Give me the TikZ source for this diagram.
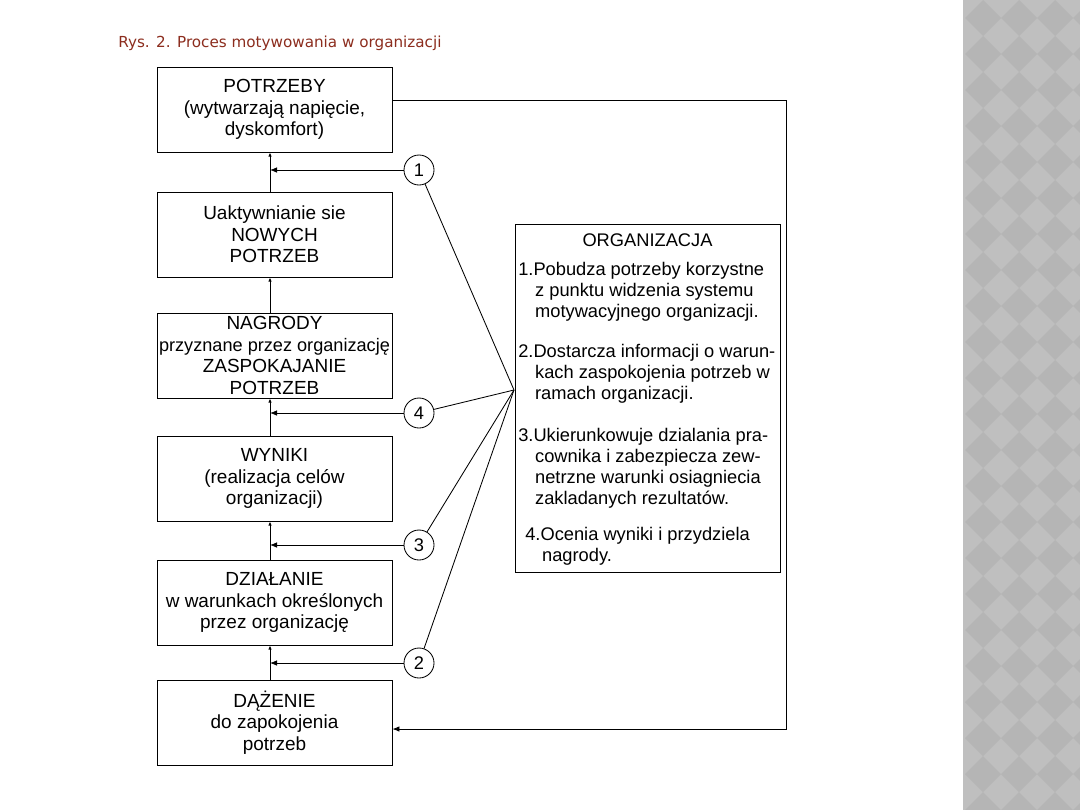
\documentclass[tikz,border=0pt]{standalone}
\usepackage{fontspec}
\setmainfont{Liberation Sans}
\newfontfamily\titlefont{DejaVu Sans}
\usetikzlibrary{arrows.meta}
\definecolor{titlered}{RGB}{140,45,30}
\definecolor{panelgray}{RGB}{191,191,191}
\definecolor{diamgray}{RGB}{181,181,181}
\begin{document}
\begin{tikzpicture}[x=0.025cm, y=-0.025cm,
  stage/.style={draw, line width=0.6pt, minimum width=5.875cm, minimum height=2.125cm,
    align=center, inner sep=0pt, font=\fontsize{13.5}{15.2}\selectfont},
  num/.style={draw, circle, line width=0.6pt, minimum size=0.75cm, inner sep=0pt,
    font=\fontsize{13}{15}\selectfont},
  orgtxt/.style={anchor=north west, align=left, inner sep=0pt, font=\fontsize{13}{15}\selectfont},
  upline/.style={line width=0.6pt, -{Latex[length=3pt,width=2.5pt]}},
  inarrow/.style={line width=0.6pt, -{Latex[length=5pt,width=4pt]}}]
  \useasboundingbox (0,0) rectangle (1080,810);
  \fill[panelgray] (963,0) rectangle (1080,810);
  \begin{scope}
    \clip (963,0) rectangle (1080,810);
    \foreach \i in {0,...,3}
      \foreach \j in {0,...,22}
        \fill[diamgray] ({983+36*\i},{18+36*\j-18}) -- ++(18,18) -- ++(-18,18) -- ++(-18,-18) -- cycle;
  \end{scope}
  \node[anchor=west, inner sep=0pt, text=titlered, font=\titlefont\fontsize{10.8}{12}\selectfont] (title) at (118,43)
    {Rys. 2. Proces motywowania w organizacji};

  \node[stage] (potrzeby) at (274.5,109.5) {POTRZEBY\\(wytwarzają napięcie,\\dyskomfort)};
  \node[stage] (nowe) at (274.5,234.5) {Uaktywnianie sie\\NOWYCH\\POTRZEB};
  \node[stage] (nagrody) at (274.5,355.5) {NAGRODY\\{\fontsize{12.9}{15.2}\selectfont przyznane przez organizację}\\ZASPOKAJANIE\\POTRZEB};
  \node[stage] (wyniki) at (274.5,478.5) {WYNIKI\\(realizacja celów\\organizacji)};
  \node[stage] (dzialanie) at (274.5,602.5) {DZIAŁANIE\\w warunkach określonych\\przez organizację};
  \node[stage] (dazenie) at (274.5,722.5) {DĄŻENIE\\do zapokojenia\\potrzeb};

  \node[num] (c1) at (419,170) {1};
  \node[num] (c4) at (419,413) {4};
  \node[num] (c3) at (419,545) {3};
  \node[num] (c2) at (419,663) {2};

  \node[draw, line width=0.6pt, minimum width=6.625cm, minimum height=8.7cm] (org) at (647.5,398) {};
  \node[font=\fontsize{13}{15}\selectfont] (orgtitle) at (647.5,240) {ORGANIZACJA};
  \node[orgtxt] (p1) at (518,262) {1.Pobudza potrzeby korzystne\\\hspace*{12pt}z punktu widzenia systemu\\\hspace*{12pt}motywacyjnego organizacji.};
  \node[orgtxt] (p2) at (518,344) {2.Dostarcza informacji o warun-\\\hspace*{12pt}kach zaspokojenia potrzeb w\\\hspace*{12pt}ramach organizacji.};
  \node[orgtxt] (p3) at (518,428) {3.Ukierunkowuje dzialania pra-\\\hspace*{12pt}cownika i zabezpiecza zew-\\\hspace*{12pt}netrzne warunki osiagniecia\\\hspace*{12pt}zakladanych rezultatów.};
  \node[orgtxt] (p4) at (525,527) {4.Ocenia wyniki i przydziela\\\hspace*{12pt}nagrody.};

  \coordinate (axis) at (270,0);
  \coordinate (hub) at (514,390);
  \coordinate (ret) at (786,100);
  \coordinate (ret2) at (786,729);

  \draw[upline] (nowe.north -| axis) -- (potrzeby.south -| axis);
  \draw[upline] (nagrody.north -| axis) -- (nowe.south -| axis);
  \draw[upline] (wyniki.north -| axis) -- (nagrody.south -| axis);
  \draw[upline] (dzialanie.north -| axis) -- (wyniki.south -| axis);
  \draw[upline] (dazenie.north -| axis) -- (dzialanie.south -| axis);

  \draw[inarrow] (c1) -- (c1 -| axis);
  \draw[inarrow] (c4) -- (c4 -| axis);
  \draw[inarrow] (c3) -- (c3 -| axis);
  \draw[inarrow] (c2) -- (c2 -| axis);

  \begin{scope}[line width=0.6pt]
    \draw (c1) -- (hub);
    \draw (c4) -- (hub);
    \draw (c3) -- (hub);
    \draw (c2) -- (hub);
  \end{scope}

  \draw[inarrow] (potrzeby.east |- ret) -- (ret) -- (ret2) -- (dazenie.east |- ret2);
\end{tikzpicture}
\end{document}
